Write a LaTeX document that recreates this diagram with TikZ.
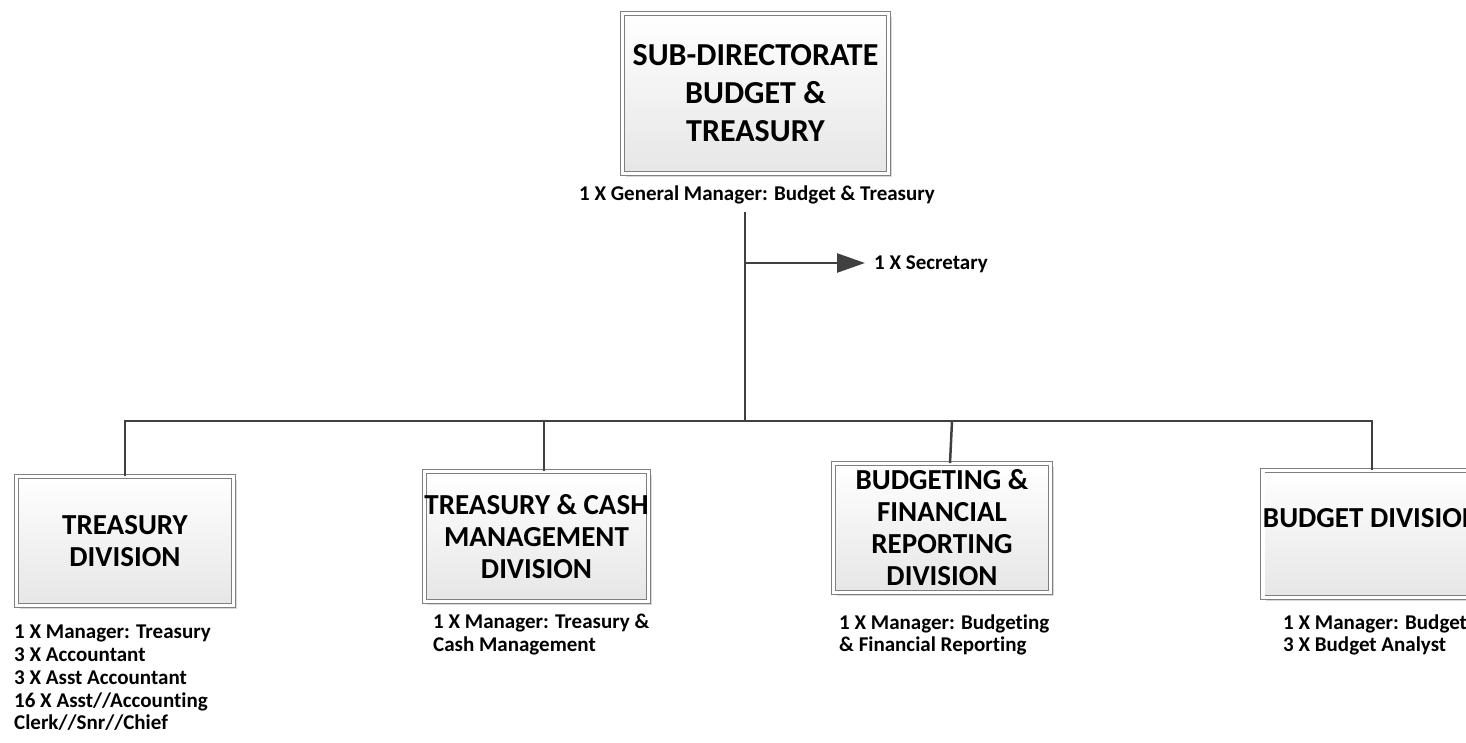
\documentclass[tikz,border=0pt]{standalone}
\usepackage{fontspec}
\setmainfont{Carlito}[Ligatures={NoCommon}]
\usetikzlibrary{arrows.meta,shadows}
\definecolor{linegray}{HTML}{404040}
\definecolor{boxgray}{HTML}{7F7F7F}
\definecolor{boxbot}{HTML}{E6E6E6}
\definecolor{shadowgray}{HTML}{D9D9D9}
\begin{document}
\begin{tikzpicture}[x=1pt,y=-1pt,
  divbox/.style={draw=boxgray, line width=0.8pt, double=white, double distance=3.4pt,
    top color=white, bottom color=boxbot,
    drop shadow={shadow xshift=3pt, shadow yshift=-3pt, fill=shadowgray, opacity=1},
    align=center, inner sep=0pt, font=\fontsize{29}{32}\selectfont\bfseries},
  lbl/.style={inner sep=0pt, align=left, font=\fontsize{21}{22.8}\selectfont\bfseries},
  conn/.style={draw=linegray, line width=2.5pt},
  secarrow/.style={conn, -{Triangle[length=28pt,width=19pt]}}
]
\useasboundingbox (0,0) rectangle (1466,742);
\clip (0,0) rectangle (1466,742);

% boxes
\node[divbox, minimum width=266pt, minimum height=160pt,
      font=\fontsize{32}{38}\selectfont\bfseries] (top) at (755.5,93.5)
      {SUB-DIRECTORATE\\BUDGET \&\\TREASURY};
\node[divbox, minimum width=217pt, minimum height=129pt] (tre) at (125,541)
      {TREASURY\\DIVISION};
\node[divbox, minimum width=216pt, minimum height=130pt] (tcm) at (536.5,536.5)
      {TREASURY \& CASH\\MANAGEMENT\\DIVISION};
\node[divbox, minimum width=217pt, minimum height=129pt] (bfr) at (942,528)
      {BUDGETING \&\\FINANCIAL\\REPORTING\\DIVISION};
\node[divbox, minimum width=217pt, minimum height=127pt] (bud) at (1372,534)
      {BUDGET DIVISION\\\mbox{}};

% labels
\node[lbl, anchor=north] (gm) at (757,184.5) {\strut 1 X General Manager: Budget \& Treasury};
\node[lbl, anchor=west, inner xsep=9pt] (sec) at (865,264) {1 X Secretary};
\node[lbl, anchor=north west] (trel) at (14,622.5)
      {\strut 1 X Manager: Treasury\\3 X Accountant\\3 X Asst Accountant\\16 X Asst//Accounting\\Clerk//Snr//Chief};
\node[lbl, anchor=north west] (tcml) at (433,612.5)
      {\strut 1 X Manager: Treasury \&\\Cash Management};
\node[lbl, anchor=north west] (bfrl) at (839,613)
      {\strut 1 X Manager: Budgeting\\\& Financial Reporting};
\node[lbl, anchor=north west] (budl) at (1283,613)
      {\strut 1 X Manager: Budget\\3 X Budget Analyst};

% connector points
\coordinate (vtop) at (745,212);
\coordinate (sb) at (745,263);
\coordinate (hub) at (745,421);
\coordinate (hl) at (125,421);
\coordinate (hr) at (1372,421);
\coordinate (d2) at (544,421);
\coordinate (d3) at (952,421);

% connectors
\draw[conn] (vtop) -- (hub);
\draw[secarrow] (sb) -- (sb -| sec.west);
\draw[conn, line cap=rect] (hl) -- (hr);
\draw[conn] (hl) -- (tre.north);
\draw[conn] (d2) -- (d2 |- tcm.north);
\draw[conn] (d3) -- ([xshift=8pt]bfr.north);
\draw[conn] (hr) -- (bud.north);
\end{tikzpicture}
\end{document}
